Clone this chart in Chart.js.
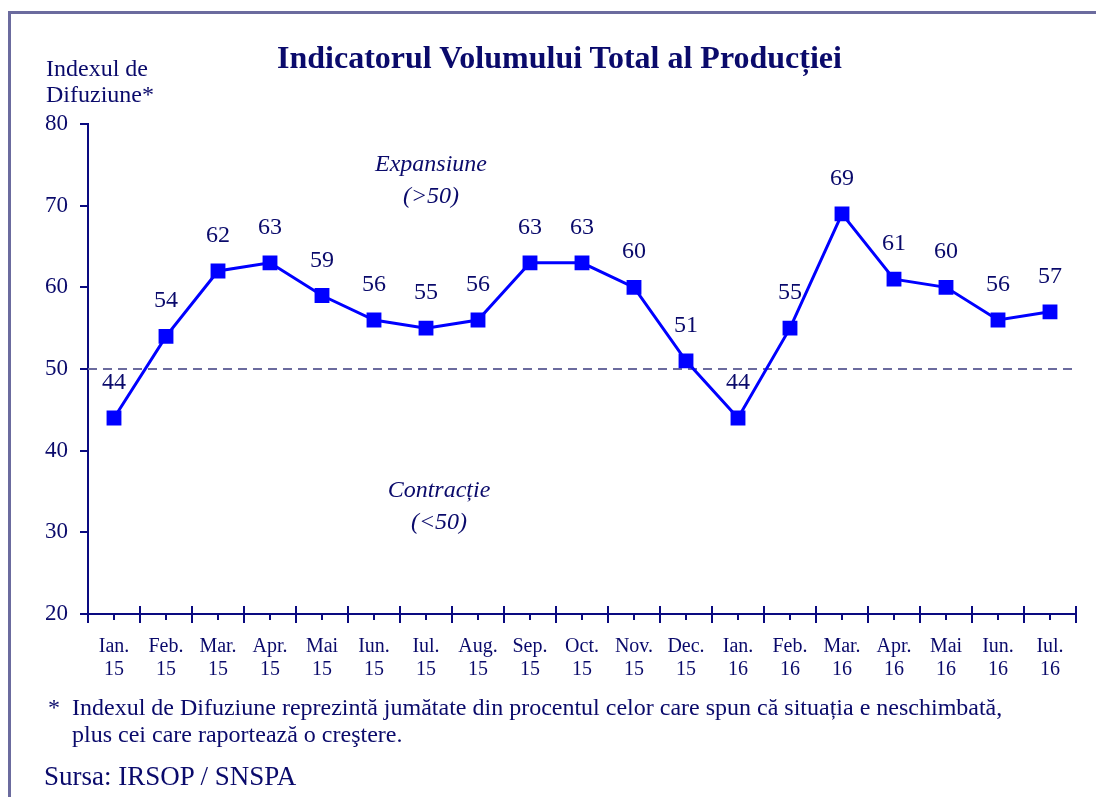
<!DOCTYPE html>
<html>
<head>
<meta charset="utf-8">
<script src="https://cdn.jsdelivr.net/npm/chart.js@4/dist/chart.umd.min.js"></script>
<style>
  html, body { margin: 0; padding: 0; background: #fff; }
  #wrap { position: relative; width: 1096px; height: 797px; overflow: hidden; font-family: "Liberation Serif", "Times New Roman", serif; color: #0a0a6b; }
  #frame { position: absolute; left: 8px; top: 11px; width: 1200px; height: 900px; border-left: 3px solid #6b6b9e; border-top: 3px solid #6b6b9e; box-sizing: border-box; }
  canvas { position: absolute; left: 0; top: 0; }
  .t { position: absolute; white-space: nowrap; }
  #title { left: 0; width: 1119px; text-align: center; top: 39px; font-size: 32px; line-height: 36px; font-weight: bold; }
  #ytitle { left: 46px; top: 55px; font-size: 24px; line-height: 26px; }
  .ann { font-style: italic; font-size: 24px; line-height: 32px; text-align: center; width: 200px; }
  .foot { font-size: 24px; line-height: 27px; }
  #src { left: 44px; top: 761px; font-size: 27px; line-height: 30px; }
</style>
</head>
<body>
<div id="wrap">
  <div id="frame"></div>
  <canvas id="c" width="1096" height="797"></canvas>
  <div class="t" id="title">Indicatorul Volumului Total al Producției</div>
  <div class="t" id="ytitle">Indexul de<br>Difuziune*</div>
  <div class="t ann" style="left:331px; top:147px;">Expansiune<br>(&gt;50)</div>
  <div class="t ann" style="left:339px; top:473px;">Contracție<br>(&lt;50)</div>
  <div class="t foot" style="left:48px; top:694px;">*</div>
  <div class="t foot" style="left:72px; top:694px;">Indexul de Difuziune reprezintă jumătate din procentul celor care spun că situația e neschimbată,</div>
  <div class="t foot" style="left:72px; top:721px;">plus cei care raportează o creştere.</div>
  <div class="t" id="src">Sursa: IRSOP / SNSPA</div>
</div>
<script>
const months = ['Ian.', 'Feb.', 'Mar.', 'Apr.', 'Mai', 'Iun.', 'Iul.', 'Aug.', 'Sep.', 'Oct.', 'Nov.', 'Dec.', 'Ian.', 'Feb.', 'Mar.', 'Apr.', 'Mai', 'Iun.', 'Iul.'];
const years = ['15', '15', '15', '15', '15', '15', '15', '15', '15', '15', '15', '15', '16', '16', '16', '16', '16', '16', '16'];
const indexValues = [44, 54, 62, 63, 59, 56, 55, 56, 63, 63, 60, 51, 44, 55, 69, 61, 60, 56, 57];
const yTicks = [20, 30, 40, 50, 60, 70, 80];
const threshold = 50;

const NAVY = '#0a0a6b';
const AXIS = '#0a0a80';
const SERIF = '"Liberation Serif", "Times New Roman", serif';

const labels = months.map((m, i) => [m, years[i]]);

const decor = {
  id: 'decor',
  beforeDatasetsDraw(chart) {
    const { ctx, chartArea, scales } = chart;
    const y = scales.y.getPixelForValue(threshold);
    ctx.save();
    ctx.strokeStyle = '#6b6b9e';
    ctx.lineWidth = 2;
    ctx.setLineDash([9, 6]);
    ctx.beginPath();
    ctx.moveTo(chartArea.left, y);
    ctx.lineTo(chartArea.right, y);
    ctx.stroke();
    ctx.restore();
  },
  afterDraw(chart) {
    const { ctx, scales } = chart;
    const xs = scales.x;
    const yb = scales.y.getPixelForValue(yTicks[0]);
    const n = months.length;
    const w = (xs.right - xs.left) / n;
    ctx.save();
    ctx.strokeStyle = AXIS;
    ctx.lineWidth = 2;
    ctx.beginPath();
    for (let i = 0; i <= n; i++) {
      const x = i < n ? xs.getPixelForValue(i) - w / 2 : xs.getPixelForValue(n - 1) + w / 2;
      ctx.moveTo(x, yb - 8);
      ctx.lineTo(x, yb + 9);
    }
    for (let i = 0; i < n; i++) {
      const x = xs.getPixelForValue(i);
      ctx.moveTo(x, yb);
      ctx.lineTo(x, yb + 6);
    }
    ctx.stroke();
    ctx.fillStyle = NAVY;
    ctx.font = '24px ' + SERIF;
    ctx.textAlign = 'center';
    ctx.textBaseline = 'alphabetic';
    const meta = chart.getDatasetMeta(0);
    meta.data.forEach((pt, i) => {
      ctx.fillText(String(indexValues[i]), pt.x, pt.y - 29);
    });
    ctx.restore();
  }
};

new Chart(document.getElementById('c'), {
  type: 'line',
  data: {
    labels: labels,
    datasets: [{
      data: indexValues,
      borderColor: '#0000ff',
      backgroundColor: '#0000ff',
      borderWidth: 3,
      pointStyle: 'rect',
      pointRadius: 10.5,
      pointBorderWidth: 0,
      pointBackgroundColor: '#0000ff',
      tension: 0
    }]
  },
  options: {
    responsive: false,
    animation: false,
    layout: { padding: { left: 0, right: 20, top: 124, bottom: 0 } },
    plugins: { legend: { display: false }, tooltip: { enabled: false }, title: { display: false } },
    scales: {
      x: {
        offset: true,
        grid: { display: false, drawTicks: false },
        border: { display: true, color: AXIS, width: 2 },
        ticks: { color: NAVY, font: { family: SERIF, size: 20, lineHeight: 1.15 }, padding: 21, maxRotation: 0, autoSkip: false },
        afterFit(s) { s.height = 797 - 124 - 490; }
      },
      y: {
        min: 20, max: 80,
        afterBuildTicks(s) { s.ticks = yTicks.map(v => ({ value: v })); },
        grid: { display: true, drawOnChartArea: false, drawTicks: true, tickLength: 8, color: AXIS, lineWidth: 2 },
        border: { display: true, color: AXIS, width: 2 },
        ticks: { color: NAVY, font: { family: SERIF, size: 23 }, padding: 12 },
        afterFit(s) { s.width = 88; }
      }
    }
  },
  plugins: [decor]
});
</script>
</body>
</html>
